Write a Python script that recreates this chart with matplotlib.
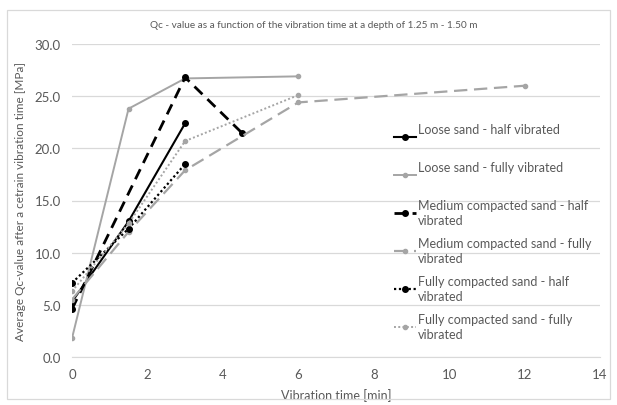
import matplotlib.pyplot as plt
from matplotlib.patches import Rectangle

plt.rcParams['font.family'] = ['Lato', 'DejaVu Sans']

# vibration time [min] and average Qc [MPa] per test
loose_half_t = [0, 1.5, 3]
loose_half_qc = [5.3, 13.0, 22.4]
loose_full_t = [0, 1.5, 3, 6]
loose_full_qc = [1.8, 23.8, 26.7, 26.9]
medium_half_t = [0, 3, 4.5]
medium_half_qc = [4.6, 26.8, 21.5]
medium_full_t = [0, 1.5, 3, 6, 12]
medium_full_qc = [5.5, 12.0, 17.9, 24.4, 26.0]
fully_half_t = [0, 1.5, 3]
fully_half_qc = [7.1, 12.3, 18.5]
fully_full_t = [0, 1.5, 3, 6]
fully_full_qc = [6.3, 12.8, 20.7, 25.1]

labels = ["Loose sand - half vibrated\n",
          "Loose sand - fully vibrated\n",
          "Medium compacted sand - half\nvibrated",
          "Medium compacted sand - fully\nvibrated",
          "Fully compacted sand - half\nvibrated",
          "Fully compacted sand - fully\nvibrated"]

BLACK = "#000000"
GREY = "#A5A5A5"
TXT = "#595959"

fig = plt.figure(figsize=(6.17, 4.06), dpi=100)
ax = fig.add_axes([72/617, 1-358/406, (600-72)/617, (358-45)/406])

ax.plot(loose_half_t, loose_half_qc, color=BLACK, lw=1.5, marker='o', ms=4, label=labels[0])
ax.plot(loose_full_t, loose_full_qc, color=GREY, lw=1.4, marker='o', ms=3, label=labels[1])
ax.plot(medium_half_t, medium_half_qc, color=BLACK, lw=2.0, ls=(0, (4, 2.5)), marker='o', ms=4, label=labels[2])
ax.plot(medium_full_t, medium_full_qc, color=GREY, lw=1.6, ls=(0, (6, 3)), marker='o', ms=3, label=labels[3])
ax.plot(fully_half_t, fully_half_qc, color=BLACK, lw=1.6, ls=(0, (1, 1.2)), marker='o', ms=4, label=labels[4])
ax.plot(fully_full_t, fully_full_qc, color=GREY, lw=1.4, ls=(0, (1, 1.2)), marker='o', ms=3, label=labels[5])

ax.set_xlim(0, 14)
ax.set_ylim(0, 30)
ax.set_xticks(range(0, 15, 2))
ax.set_yticks([0, 5, 10, 15, 20, 25, 30])
ax.set_yticklabels([f"{v:.1f}" for v in [0, 5, 10, 15, 20, 25, 30]])
ax.grid(axis='y', color="#D9D9D9", lw=0.9)
ax.set_axisbelow(True)
for s in ['top', 'right', 'left']:
    ax.spines[s].set_visible(False)
ax.spines['bottom'].set_color("#D9D9D9")
ax.tick_params(length=0, colors=TXT, labelsize=9.5, pad=8)

ax.set_xlabel("Vibration time [min]", color=TXT, fontsize=9, labelpad=6)
ax.set_ylabel("Average Qc-value after a cetrain vibration time [MPa]", color=TXT, fontsize=8.5, labelpad=6)

fig.text(314/617, 1-25/406, "Qc - value as a function of the vibration time at a depth of 1.25 m - 1.50 m",
         ha='center', va='center', color=TXT, fontsize=7.2)

leg = ax.legend(loc='upper left', bbox_to_anchor=(388/617, 1-118/406), bbox_transform=fig.transFigure,
                frameon=False, fontsize=9, labelspacing=0.88, handlelength=1.7, handletextpad=0.2,
                borderpad=0)
for t in leg.get_texts():
    t.set_color(TXT)
    t.set_linespacing(1.3)

fig.patches.append(Rectangle((7/617, 1-400/406), 603/617, 389/406, transform=fig.transFigure,
                             fill=False, edgecolor="#D9D9D9", lw=0.9))

plt.savefig("out.png", dpi=100)
